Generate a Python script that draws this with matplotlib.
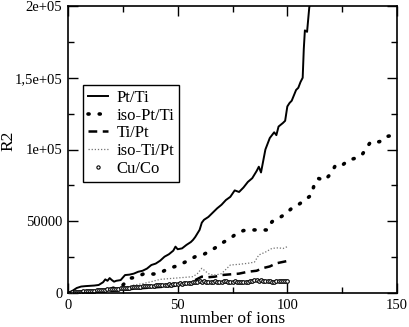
import numpy as np
import matplotlib
matplotlib.use('Agg')
import matplotlib.pyplot as plt
from matplotlib.ticker import FixedLocator, MultipleLocator

plt.rcParams['font.family'] = ['Liberation Serif', 'DejaVu Serif']

# Pt/Ti
pt_ti_x = [0, 2, 4, 6, 8, 10, 12, 14, 16, 17, 18, 19, 20, 21, 22, 24, 26, 28, 30, 32,
           34, 36, 38, 40, 42, 44, 46, 48, 49, 50, 52, 54, 56, 57, 58, 60, 61, 62, 64, 66,
           68, 70, 72, 74, 76, 78, 80, 82, 84, 86, 87, 88, 89, 90, 92, 94, 95, 96, 98, 99,
           100, 101, 102, 104, 105, 106, 107, 107.5, 108, 109, 110, 111]
pt_ti_y = [0, 1500, 3500, 4500, 4800, 5000, 5200, 5600, 7500, 9500, 8500, 10400, 9000, 7900, 8500,
           9000, 12500, 12800, 13500, 14800, 15500, 17000, 19500, 20500, 22500, 25300, 27000,
           29500, 32300, 30500, 31100, 33500, 35500, 37000, 39000, 44000, 49000, 51000, 53000,
           56000, 59000, 61500, 64800, 67000, 71500, 70400, 73500, 77400, 80000, 85000, 88000,
           84000, 92000, 100000, 108000, 112000, 110000, 116000, 118500, 120000, 130000, 132400,
           134000, 141500, 143000, 147000, 150000, 170000, 183000, 182000, 199000, 205000]

# iso-Pt/Ti
iso_pt_ti_x = [0, 5, 10, 15, 20, 25, 28, 31, 35, 39, 42, 46, 50, 54, 58, 62, 65, 68, 71, 74,
               77, 80, 83, 87, 91, 93, 96, 99, 102, 105, 108, 111, 112, 114, 117, 120, 122, 125,
               128, 131, 134, 138, 142, 145, 149]
iso_pt_ti_y = [0, 300, 800, 1500, 3000, 5500, 10200, 11000, 13700, 13200, 14000, 17200, 19000,
               22000, 25300, 27000, 29500, 32300, 35500, 38100, 41600, 43500, 43900, 44000, 43900,
               49700, 52000, 55000, 59000, 61500, 64800, 68300, 74100, 79900, 78500, 83400, 89200,
               89000, 92700, 93900, 96200, 105400, 105400, 109000, 110100]

# Ti/Pt
ti_pt_x = [0, 5, 10, 15, 20, 25, 30, 35, 40, 45, 50, 55, 58, 61, 64, 67, 70, 74, 78, 82,
           86, 89, 92, 95, 100]
ti_pt_y = [0, 300, 600, 1000, 1500, 2200, 3000, 3500, 4000, 4500, 5200, 7000, 9000, 11400,
           11000, 11400, 12500, 13000, 13500, 14800, 15500, 17400, 18500, 20700, 22300]

# iso-Ti/Pt
iso_ti_pt_x = [0, 5, 10, 15, 20, 24, 27, 30, 34, 38, 42, 46, 50, 54, 57, 59, 61, 62, 64, 66,
               68, 70, 72, 74, 78, 82, 85, 87, 90, 93, 96, 98, 100]
iso_ti_pt_y = [0, 500, 1200, 2000, 3000, 3800, 4400, 5500, 6500, 7900, 9500, 10000, 10500,
               11000, 11400, 13500, 17200, 16000, 13500, 12500, 12800, 13500, 16500, 19500,
               20000, 20700, 21500, 26500, 28500, 31100, 31500, 31000, 32300]

# Cu/Co
cu_co_x = np.arange(0, 101)
cu_co_y = [0, 200, 400, 600, 700, 900, 1000, 1100, 1300, 1400,
           1500, 1600, 1700, 1900, 2000, 2100, 2200, 2400, 2500, 2600,
           2700, 2900, 3000, 3100, 3300, 3400, 3500, 3600, 3800, 3900,
           4000, 4100, 4300, 4400, 4600, 4700, 4800, 5000, 5100, 5200,
           5400, 5500, 5600, 5500, 5700, 5900, 6000, 5800, 6000, 6200,
           6500, 6800, 6600, 6900, 7100, 6900, 7200, 7400, 7600, 7900,
           8200, 7900, 8300, 8000, 7600, 7400, 7800, 8100, 7900, 7700,
           8000, 8300, 8100, 7800, 7600, 7900, 8100, 7800, 7600, 7800,
           7900, 7700, 7800, 8100, 8300, 8800, 9100, 8700, 8900, 8400,
           8100, 8300, 8600, 8000, 7800, 8200, 8500, 8300, 8100, 8600, 8400]

ytick_vals = [0, 50000, 100000, 150000, 200000]
ytick_labels = ['0', '50000', '1e+05', '1,5e+05', '2e+05']
xtick_vals = [0, 50, 100, 150]

fig = plt.figure(figsize=(4.09, 3.27), dpi=100, facecolor='w')
ax = fig.add_axes([68/409, 34/327, 329/409, 287/327])

ax.plot(pt_ti_x, pt_ti_y, color='k', lw=1.4, label='Pt/Ti')
ax.plot(iso_pt_ti_x, iso_pt_ti_y, color='k', lw=2.6, linestyle=(0, (0.3, 2.8)),
        dash_capstyle='round', label='iso-Pt/Ti')
ax.plot(ti_pt_x, ti_pt_y, color='k', lw=1.8, linestyle=(0, (3.5, 2.2)), label='Ti/Pt')
ax.plot(iso_ti_pt_x, iso_ti_pt_y, color='0.45', lw=0.9, linestyle=(0, (1, 1.5)), label='iso-Ti/Pt')
ax.plot(cu_co_x, cu_co_y, linestyle='none', marker='o', ms=2.6, mfc='white', mec='k',
        mew=0.8, label='Cu/Co')

ax.set_xlim(0, 150)
ax.set_ylim(0, 200000)
ax.xaxis.set_major_locator(FixedLocator(xtick_vals))
ax.xaxis.set_minor_locator(MultipleLocator(25))
ax.yaxis.set_major_locator(FixedLocator(ytick_vals))
ax.yaxis.set_minor_locator(MultipleLocator(25000))
ax.set_yticklabels(ytick_labels)
ax.tick_params(which='both', direction='in', top=True, right=True, labelsize=10.5, width=1, pad=4)
ax.tick_params(which='major', length=7)
ax.tick_params(which='minor', length=4)
for sp in ax.spines.values():
    sp.set_linewidth(1.2)

ax.set_xlabel('number of ions', fontsize=12.5)
ax.set_ylabel('R2', fontsize=12.5)
ax.xaxis.set_label_coords(0.5, -0.062)
ax.yaxis.set_label_coords(-0.158, 0.53)

leg = ax.legend(loc='upper left', bbox_to_anchor=(0.046, 0.725), borderaxespad=0,
                fancybox=False, edgecolor='k', fontsize=12, handlelength=1.2,
                labelspacing=0.1, borderpad=0.3, handletextpad=0.5, framealpha=1,
                markerscale=0.9)
leg.get_frame().set_linewidth(1.0)

fig.savefig('out.png', dpi=100)
